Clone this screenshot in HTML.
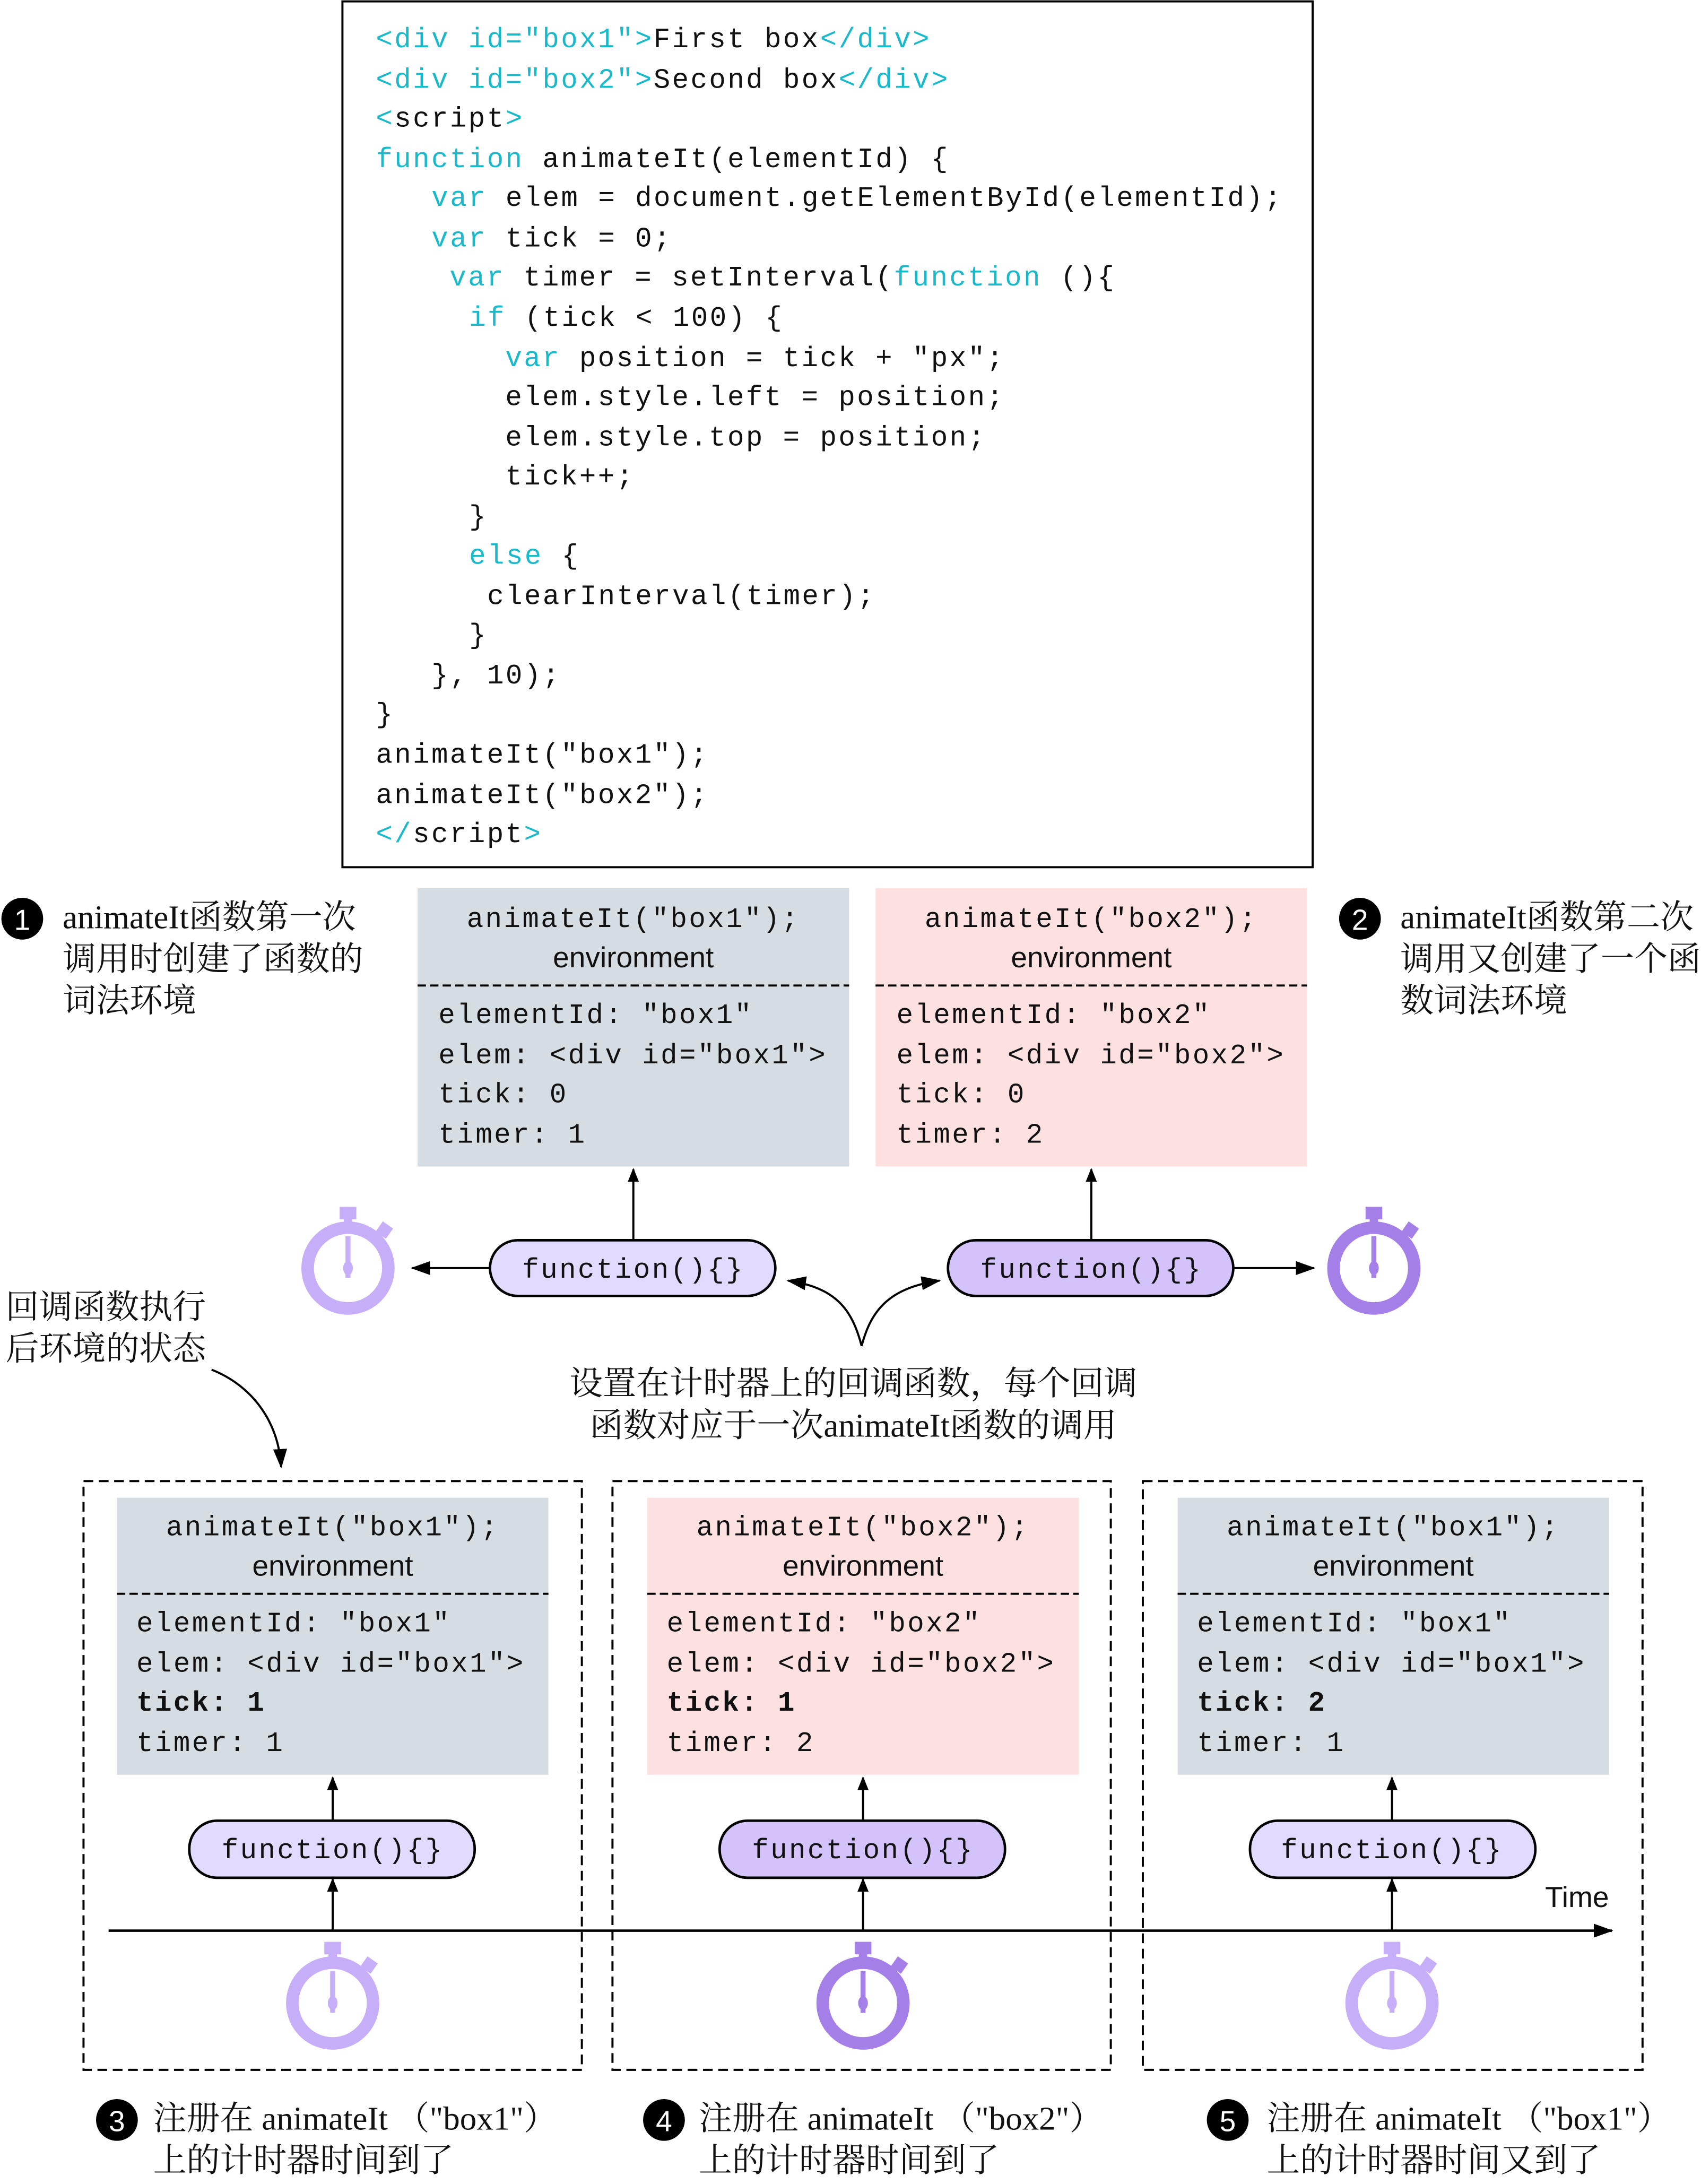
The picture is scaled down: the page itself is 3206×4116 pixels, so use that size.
<!DOCTYPE html>
<html><head><meta charset="utf-8"><style>
html,body{margin:0;padding:0;background:#fff;}
svg{display:block;}
.m{font-family:"Liberation Mono",monospace;font-size:20px;letter-spacing:1.3px;fill:#111;}
.k{fill:#19b9cc;}
.s{font-family:"Liberation Sans",sans-serif;font-size:21px;fill:#111;}
.c{font-family:"Liberation Serif","Noto Serif CJK SC",serif;font-size:24px;fill:#111;}
</style></head><body>
<svg width="3206" height="4116" viewBox="0 0 1222 1569" preserveAspectRatio="none" xmlns="http://www.w3.org/2000/svg">
<defs>
<marker id="a" markerWidth="10" markerHeight="8" refX="9" refY="4" orient="auto" markerUnits="userSpaceOnUse"><path d="M0,0 L10,4 L0,8 Z" fill="#000"/></marker>
<marker id="b" markerWidth="14" markerHeight="10" refX="13" refY="5" orient="auto" markerUnits="userSpaceOnUse"><path d="M0,0 L14,5 L0,10 Z" fill="#000"/></marker>
<g id="sw1"><rect x="-6" y="-44" width="12" height="9" fill="#c6aef8"/><rect x="-3" y="-37" width="6" height="5" fill="#c6aef8"/><rect x="22" y="-32" width="9" height="9" fill="#c6aef8" transform="rotate(35 26 -28)"/><circle r="29" fill="none" stroke="#c6aef8" stroke-width="9"/><rect x="-1.8" y="-23" width="3.6" height="30" fill="#c6aef8"/><ellipse rx="3.5" ry="5" fill="#c6aef8"/></g>
<g id="sw2"><rect x="-6" y="-44" width="12" height="9" fill="#a47fe8"/><rect x="-3" y="-37" width="6" height="5" fill="#a47fe8"/><rect x="22" y="-32" width="9" height="9" fill="#a47fe8" transform="rotate(35 26 -28)"/><circle r="29" fill="none" stroke="#a47fe8" stroke-width="9"/><rect x="-1.8" y="-23" width="3.6" height="30" fill="#a47fe8"/><ellipse rx="3.5" ry="5" fill="#a47fe8"/></g>
</defs>

<rect x="246" y="1" width="697" height="622" fill="#fff" stroke="#000" stroke-width="1.5"/>
<g class="m">
<text x="270" y="34"><tspan class="k">&lt;div id="box1"&gt;</tspan>First box<tspan class="k">&lt;/div&gt;</tspan></text>
<text x="270" y="63"><tspan class="k">&lt;div id="box2"&gt;</tspan>Second box<tspan class="k">&lt;/div&gt;</tspan></text>
<text x="270" y="91"><tspan class="k">&lt;</tspan>script<tspan class="k">&gt;</tspan></text>
<text x="270" y="120"><tspan class="k">function</tspan> animateIt(elementId) {</text>
<text x="310" y="148"><tspan class="k">var</tspan> elem = document.getElementById(elementId);</text>
<text x="310" y="177"><tspan class="k">var</tspan> tick = 0;</text>
<text x="323" y="205"><tspan class="k">var</tspan> timer = setInterval(<tspan class="k">function</tspan> (){</text>
<text x="337" y="234"><tspan class="k">if</tspan> (tick &lt; 100) {</text>
<text x="363" y="263"><tspan class="k">var</tspan> position = tick + "px";</text>
<text x="363" y="291">elem.style.left = position;</text>
<text x="363" y="320">elem.style.top = position;</text>
<text x="363" y="348">tick++;</text>
<text x="337" y="377">}</text>
<text x="337" y="405"><tspan class="k">else</tspan> {</text>
<text x="350" y="434">clearInterval(timer);</text>
<text x="337" y="462">}</text>
<text x="310" y="491">}, 10);</text>
<text x="270" y="519">}</text>
<text x="270" y="548">animateIt("box1");</text>
<text x="270" y="577">animateIt("box2");</text>
<text x="270" y="605"><tspan class="k">&lt;/</tspan>script<tspan class="k">&gt;</tspan></text>
</g>

<g transform="translate(300,638)">
<rect width="310" height="200" fill="#d5dde2"/>
<text class="m" x="155" y="28" text-anchor="middle">animateIt("box1");</text>
<text class="s" x="155" y="57" text-anchor="middle">environment</text>
<line x1="0" y1="70" x2="310" y2="70" stroke="#000" stroke-width="1.5" stroke-dasharray="6,3"/>
<text class="m" x="15" y="97">elementId: "box1"</text>
<text class="m" x="15" y="126">elem: &lt;div id="box1"&gt;</text>
<text class="m" x="15" y="154">tick: 0</text>
<text class="m" x="15" y="183">timer: 1</text>
</g>
<g transform="translate(629,638)">
<rect width="310" height="200" fill="#fde0e0"/>
<text class="m" x="155" y="28" text-anchor="middle">animateIt("box2");</text>
<text class="s" x="155" y="57" text-anchor="middle">environment</text>
<line x1="0" y1="70" x2="310" y2="70" stroke="#000" stroke-width="1.5" stroke-dasharray="6,3"/>
<text class="m" x="15" y="97">elementId: "box2"</text>
<text class="m" x="15" y="126">elem: &lt;div id="box2"&gt;</text>
<text class="m" x="15" y="154">tick: 0</text>
<text class="m" x="15" y="183">timer: 2</text>
</g>

<circle cx="16" cy="660" r="15" fill="#000"/><text x="16" y="668" text-anchor="middle" style="font-family:'Liberation Sans',sans-serif;font-size:21px;fill:#fff">1</text>
<text class="c" x="45" y="667">animateIt函数第一次</text>
<text class="c" x="45" y="697">调用时创建了函数的</text>
<text class="c" x="45" y="727">词法环境</text>
<circle cx="977" cy="660" r="15" fill="#000"/><text x="977" y="668" text-anchor="middle" style="font-family:'Liberation Sans',sans-serif;font-size:21px;fill:#fff">2</text>
<text class="c" x="1006" y="667">animateIt函数第二次</text>
<text class="c" x="1006" y="697">调用又创建了一个函</text>
<text class="c" x="1006" y="727">数词法环境</text>

<line x1="455" y1="891" x2="455" y2="840" stroke="#000" stroke-width="1.5" marker-end="url(#a)"/>
<line x1="784" y1="891" x2="784" y2="840" stroke="#000" stroke-width="1.5" marker-end="url(#a)"/>
<rect x="352" y="891" width="205" height="40" rx="20" fill="#e3daff" stroke="#000" stroke-width="1.8"/>
<text class="m" x="455" y="918" text-anchor="middle">function(){}</text>
<rect x="681" y="891" width="205" height="40" rx="20" fill="#d4c2fa" stroke="#000" stroke-width="1.8"/>
<text class="m" x="784" y="918" text-anchor="middle">function(){}</text>
<line x1="352" y1="911" x2="296" y2="911" stroke="#000" stroke-width="1.5" marker-end="url(#b)"/>
<line x1="886" y1="911" x2="944" y2="911" stroke="#000" stroke-width="1.5" marker-end="url(#b)"/>
<use href="#sw1" x="250" y="911"/>
<use href="#sw2" x="987" y="911"/>

<path d="M619,967 C612,940 600,925 566,920" fill="none" stroke="#000" stroke-width="1.5" marker-end="url(#b)"/>
<path d="M619,967 C626,940 640,925 675,920" fill="none" stroke="#000" stroke-width="1.5" marker-end="url(#b)"/>
<text class="c" x="613" y="1002" text-anchor="middle">设置在计时器上的回调函数，每个回调</text>
<text class="c" x="613" y="1032" text-anchor="middle">函数对应于一次animateIt函数的调用</text>

<text class="c" x="4" y="947">回调函数执行</text>
<text class="c" x="4" y="977">后环境的状态</text>
<path d="M152,984 C180,995 200,1020 202,1054" fill="none" stroke="#000" stroke-width="1.5" marker-end="url(#b)"/>

<rect x="60" y="1064" width="358" height="423" fill="none" stroke="#000" stroke-width="1.5" stroke-dasharray="7,4"/>
<rect x="440" y="1064" width="358" height="423" fill="none" stroke="#000" stroke-width="1.5" stroke-dasharray="7,4"/>
<rect x="821" y="1064" width="359" height="423" fill="none" stroke="#000" stroke-width="1.5" stroke-dasharray="7,4"/>

<g transform="translate(84,1076)">
<rect width="310" height="199" fill="#d5dde2"/>
<text class="m" x="155" y="27" text-anchor="middle">animateIt("box1");</text>
<text class="s" x="155" y="56" text-anchor="middle">environment</text>
<line x1="0" y1="69" x2="310" y2="69" stroke="#000" stroke-width="1.5" stroke-dasharray="6,3"/>
<text class="m" x="14" y="96">elementId: "box1"</text>
<text class="m" x="14" y="125">elem: &lt;div id="box1"&gt;</text>
<text class="m" x="14" y="153" font-weight="bold">tick: 1</text>
<text class="m" x="14" y="182">timer: 1</text>
</g>
<g transform="translate(465,1076)">
<rect width="310" height="199" fill="#fde0e0"/>
<text class="m" x="155" y="27" text-anchor="middle">animateIt("box2");</text>
<text class="s" x="155" y="56" text-anchor="middle">environment</text>
<line x1="0" y1="69" x2="310" y2="69" stroke="#000" stroke-width="1.5" stroke-dasharray="6,3"/>
<text class="m" x="14" y="96">elementId: "box2"</text>
<text class="m" x="14" y="125">elem: &lt;div id="box2"&gt;</text>
<text class="m" x="14" y="153" font-weight="bold">tick: 1</text>
<text class="m" x="14" y="182">timer: 2</text>
</g>
<g transform="translate(846,1076)">
<rect width="310" height="199" fill="#d5dde2"/>
<text class="m" x="155" y="27" text-anchor="middle">animateIt("box1");</text>
<text class="s" x="155" y="56" text-anchor="middle">environment</text>
<line x1="0" y1="69" x2="310" y2="69" stroke="#000" stroke-width="1.5" stroke-dasharray="6,3"/>
<text class="m" x="14" y="96">elementId: "box1"</text>
<text class="m" x="14" y="125">elem: &lt;div id="box1"&gt;</text>
<text class="m" x="14" y="153" font-weight="bold">tick: 2</text>
<text class="m" x="14" y="182">timer: 1</text>
</g>

<line x1="78" y1="1387" x2="1158" y2="1387" stroke="#000" stroke-width="1.8" marker-end="url(#b)"/>
<text class="s" x="1110" y="1370" style="font-size:21px">Time</text>

<g stroke="#000" stroke-width="1.5" fill="none">
<line x1="239" y1="1387" x2="239" y2="1350" marker-end="url(#a)"/>
<line x1="239" y1="1308" x2="239" y2="1277" marker-end="url(#a)"/>
<line x1="620" y1="1387" x2="620" y2="1350" marker-end="url(#a)"/>
<line x1="620" y1="1308" x2="620" y2="1277" marker-end="url(#a)"/>
<line x1="1000" y1="1387" x2="1000" y2="1350" marker-end="url(#a)"/>
<line x1="1000" y1="1308" x2="1000" y2="1277" marker-end="url(#a)"/>
</g>
<rect x="136" y="1308" width="205" height="41" rx="20" fill="#e3daff" stroke="#000" stroke-width="1.8"/>
<text class="m" x="239" y="1335" text-anchor="middle">function(){}</text>
<rect x="517" y="1308" width="205" height="41" rx="20" fill="#d4c2fa" stroke="#000" stroke-width="1.8"/>
<text class="m" x="620" y="1335" text-anchor="middle">function(){}</text>
<rect x="898" y="1308" width="205" height="41" rx="20" fill="#e3daff" stroke="#000" stroke-width="1.8"/>
<text class="m" x="1000" y="1335" text-anchor="middle">function(){}</text>
<use href="#sw1" x="239" y="1439"/>
<use href="#sw2" x="620" y="1439"/>
<use href="#sw1" x="1000" y="1439"/>

<circle cx="84" cy="1523" r="15" fill="#000"/><text x="84" y="1531" text-anchor="middle" style="font-family:'Liberation Sans',sans-serif;font-size:21px;fill:#fff">3</text>
<text class="c" x="110" y="1530">注册在 animateIt （"box1"）</text>
<text class="c" x="110" y="1560">上的计时器时间到了</text>
<circle cx="477" cy="1523" r="15" fill="#000"/><text x="477" y="1531" text-anchor="middle" style="font-family:'Liberation Sans',sans-serif;font-size:21px;fill:#fff">4</text>
<text class="c" x="502" y="1530">注册在 animateIt （"box2"）</text>
<text class="c" x="502" y="1560">上的计时器时间到了</text>
<circle cx="882" cy="1523" r="15" fill="#000"/><text x="882" y="1531" text-anchor="middle" style="font-family:'Liberation Sans',sans-serif;font-size:21px;fill:#fff">5</text>
<text class="c" x="910" y="1530">注册在 animateIt （"box1"）</text>
<text class="c" x="910" y="1560">上的计时器时间又到了</text>
</svg>
</body></html>
